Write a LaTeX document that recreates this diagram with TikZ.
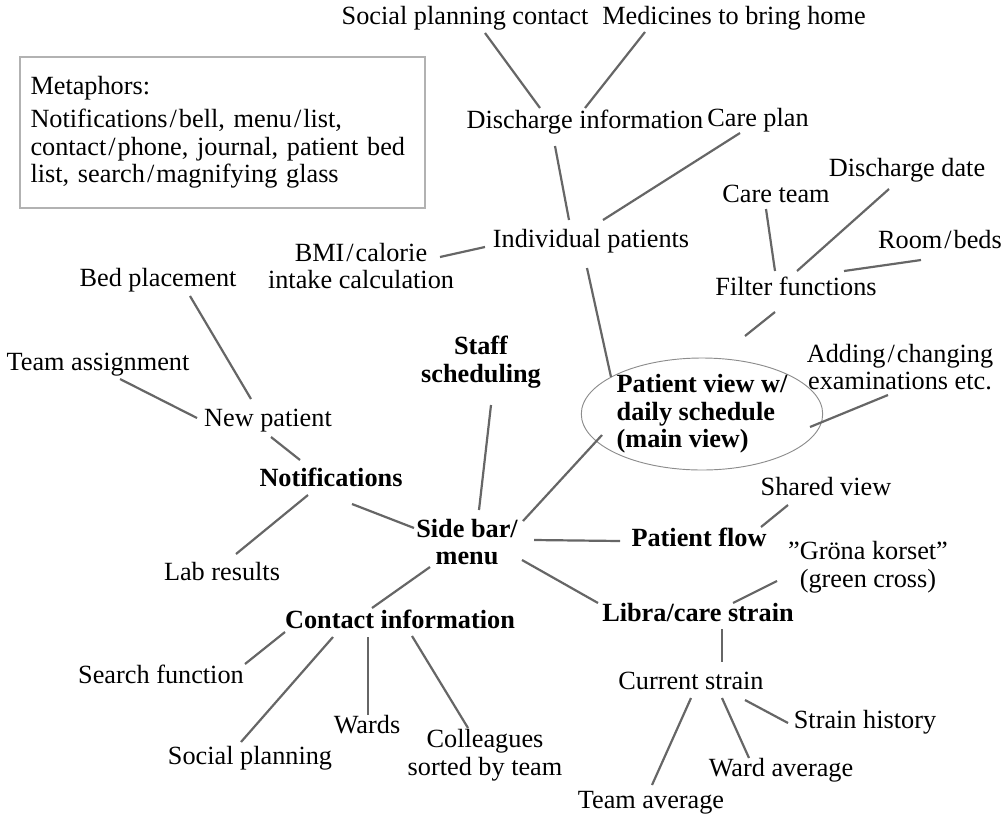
\documentclass[tikz,border=0pt]{standalone}
\usepackage{fontspec}
\setmainfont{Liberation Serif}
\usetikzlibrary{shapes.geometric}
\newcommand\lblfont{\fontsize{19.7}{20.6}\selectfont}
\newcommand\slh{\kern1.5pt/\kern1.5pt}
% connector between two nodes, each end given as an offset from the node centre
\newcommand\lnk[4]{\draw[link] ([shift={(#2)}]#1.center) -- ([shift={(#4)}]#3.center);}
\tikzset{
  lbl/.style={inner sep=0pt, text height=13pt, text depth=4pt, font=\lblfont},
  lbltwo/.style={inner sep=0pt, align=center, font=\lblfont},
  hub/.style={lbl, font=\lblfont\bfseries},
  hubtwo/.style={lbltwo, font=\lblfont\bfseries},
  link/.style={draw=black!60, line width=1.65pt},
}
\begin{document}
\begin{tikzpicture}[x=0.75pt, y=-0.75pt]
\useasboundingbox (0,0) rectangle (1002,825);

% metaphor legend
\node[draw=black!30, line width=0.8pt, minimum width=303.75pt, minimum height=113.25pt,
      inner xsep=7.5pt, align=left, font=\lblfont, text width=288pt] (meta) at (222.5,132.5)
  {Metaphors:\\[4pt]
   Notifications\slh bell, menu\slh list,\\
   contact\slh phone, journal, patient bed\\
   list, search\slh magnifying glass};

% central view
\node[ellipse, draw=black!45, line width=0.7pt, minimum width=168.75pt, minimum height=84pt,
      inner sep=0pt, align=left, font=\lblfont\bfseries] (main) at (702,414)
  {Patient view w/\\daily schedule\\(main view)};

% top branch
\node[lbl] (spc) at (465,18) {Social planning contact};
\node[lbl] (med) at (734,18) {Medicines to bring home};
\node[lbl] (dis) at (585,122) {Discharge information};
\node[lbl] (care) at (758,120) {Care plan};
\node[lbl] (ind) at (591,241) {Individual patients};
\node[lbltwo] (bmi) at (361,266) {BMI\slh calorie\\intake calculation};
\node[lbl] (cteam) at (776,196) {Care team};
\node[lbl] (ddate) at (907,170) {Discharge date};
\node[lbl] (room) at (940,242) {Room\slh beds};
\node[lbl] (filt) at (796,289) {Filter functions};
\node[lbltwo] (add) at (900,367) {Adding\slh changing\\examinations etc.};

% left branch
\node[lbl] (bed) at (158,280) {Bed placement};
\node[lbl] (team) at (98,364) {Team assignment};
\node[lbl] (newp) at (268,420) {New patient};
\node[hubtwo] (staff) at (481,362) {Staff\\scheduling};
\node[hub] (notif) at (331,480) {Notifications};
\node[hubtwo] (side) at (467,542) {Side bar/\\menu};
\node[lbl] (lab) at (222,574) {Lab results};

% right branch
\node[lbl] (shared) at (826,489) {Shared view};
\node[hub] (flow) at (699,540) {Patient flow};
\node[lbltwo] (grona) at (868,567) {”Gröna korset”\\(green cross)};
\node[hub] (libra) at (698,615) {Libra/care strain};
\node[lbl] (cur) at (691,683) {Current strain};
\node[lbl] (hist) at (865,722) {Strain history};
\node[lbl] (ward) at (781,770) {Ward average};
\node[lbl] (tavg) at (651,802) {Team average};

% bottom branch
\node[hub] (contact) at (400,622) {Contact information};
\node[lbl] (search) at (161,677) {Search function};
\node[lbl] (socp) at (250,758) {Social planning};
\node[lbl] (wards) at (367,727) {Wards};
\node[lbltwo] (coll) at (485,755) {Colleagues\\sorted by team};

% connectors
\lnk{spc}{20,15}{dis}{-45,-14}
\lnk{med}{-89,14}{dis}{0,-14}
\lnk{dis}{-30,24}{ind}{-22,-21}
\lnk{care}{-18,13}{ind}{12,-21}
\lnk{bmi}{79,-9}{ind}{-106,6}
\lnk{cteam}{-10,13}{filt}{-21,-18}
\lnk{ddate}{-18,19}{filt}{1,-18}
\lnk{room}{-19,18}{filt}{48,-18}
\lnk{filt}{-21,23}{main}{43,-78}
\lnk{ind}{-4,27}{main}{-91,-37}
\lnk{add}{-12,28}{main}{108,13}
\lnk{main}{-100,21}{side}{56,-21}
\lnk{side}{67,-2}{flow}{-79,1}
\lnk{shared}{-38,16}{flow}{62,-13}
\lnk{side}{55,18}{libra}{-100,-12}
\lnk{grona}{-91,14}{libra}{35,-12}
\lnk{libra}{24,14}{cur}{31,-21}
\lnk{cur}{0,15}{tavg}{1,-17}
\lnk{cur}{31,15}{ward}{-32,-12}
\lnk{cur}{54,17}{hist}{-77,1}
\lnk{staff}{10,43}{side}{12,-32}
\lnk{notif}{21,24}{side}{-53,-14}
\lnk{notif}{-23,15}{lab}{14,-20}
\lnk{notif}{-31,-20}{newp}{3,17}
\lnk{team}{22,15}{newp}{-71,-2}
\lnk{bed}{32,16}{newp}{-17,-21}
\lnk{side}{-37,25}{contact}{-28,-14}
\lnk{contact}{-115,10}{search}{84,-13}
\lnk{contact}{-67,15}{socp}{-9,-16}
\lnk{contact}{-32,15}{wards}{1,-12}
\lnk{contact}{12,14}{coll}{-17,-27}
\end{tikzpicture}
\end{document}
